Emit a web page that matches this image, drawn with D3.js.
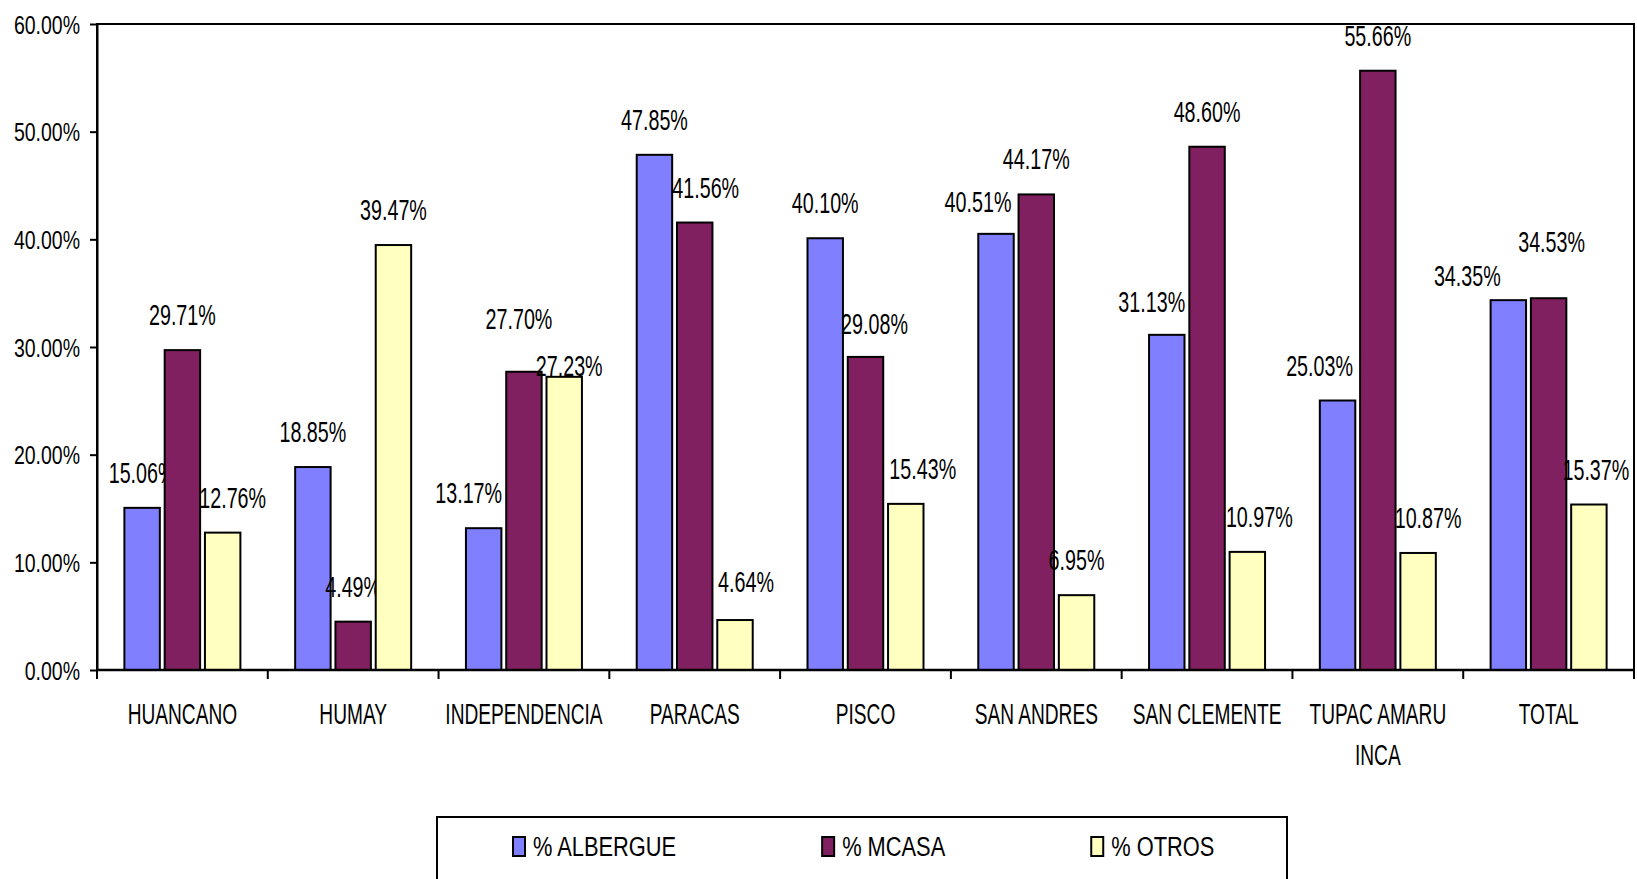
<!DOCTYPE html>
<html>
<head>
<meta charset="utf-8">
<script src="https://cdn.jsdelivr.net/npm/d3@7"></script>
<style>
  body { margin: 0; background: #fff; }
  text { font-family: "Liberation Sans", Arial, sans-serif; fill: #000; }
</style>
</head>
<body>
<div id="chart"></div>
<script>
// data
var categories = ["HUANCANO", "HUMAY", "INDEPENDENCIA", "PARACAS", "PISCO", "SAN ANDRES", "SAN CLEMENTE", "TUPAC AMARU INCA", "TOTAL"];
var seriesNames = ["% ALBERGUE", "% MCASA", "% OTROS"];
var albergue = [0.1506, 0.1885, 0.1317, 0.4785, 0.4010, 0.4051, 0.3113, 0.2503, 0.3435];
var mcasa    = [0.2971, 0.0449, 0.2770, 0.4156, 0.2908, 0.4417, 0.4860, 0.5566, 0.3453];
var otros    = [0.1276, 0.3947, 0.2723, 0.0464, 0.1543, 0.0695, 0.1097, 0.1087, 0.1537];
var yTicks   = [0, 0.1, 0.2, 0.3, 0.4, 0.5, 0.6];

var seriesValues = [albergue, mcasa, otros];
var colors = ["#8080FF", "#802060", "#FFFFC0"];

// labels that were dragged around in the original (dx, dy in px)
var labelNudge = {
  "HUANCANO|2": [10, 0],
  "INDEPENDENCIA|0": [-15, 0],
  "INDEPENDENCIA|1": [-5, -18],
  "INDEPENDENCIA|2": [5, 24],
  "PARACAS|1": [11, 0],
  "PARACAS|2": [11, -3],
  "PISCO|1": [9, 2],
  "PISCO|2": [17, 0],
  "SAN ANDRES|0": [-18, 3],
  "SAN CLEMENTE|0": [-15, 2],
  "SAN CLEMENTE|2": [12, 0],
  "TUPAC AMARU INCA|0": [-18, 0],
  "TUPAC AMARU INCA|2": [10, 0],
  "TOTAL|0": [-41, 11],
  "TOTAL|1": [3, -21],
  "TOTAL|2": [7, 0]
};

/*
 * layout
 */
var width = 1637, height = 879;
var plot = { left: 97, top: 24, right: 1634, bottom: 670 };

var svg = d3.select("#chart").append("svg")
  .attr("width", width)
  .attr("height", height);

var x0 = d3.scaleBand()
  .domain(categories)
  .range([plot.left, plot.right])
  .padding(0);

var x1 = d3.scaleBand()
  .domain(d3.range(seriesNames.length))
  .range([-58, 58])
  .paddingInner(0.12);

var y = d3.scaleLinear()
  .domain([0, 0.6])
  .range([plot.bottom, plot.top]);

// plot frame
svg.append("rect")
  .attr("x", plot.left).attr("y", plot.top)
  .attr("width", plot.right - plot.left)
  .attr("height", plot.bottom - plot.top)
  .attr("fill", "none")
  .attr("stroke", "#000")
  .attr("stroke-width", 2);

// bars
var groups = svg.append("g").selectAll("g")
  .data(categories)
  .join("g")
  .attr("transform", function(d) { return "translate(" + (x0(d) + x0.bandwidth() / 2) + ",0)"; });

var pct = d3.format(".2%");

groups.each(function(cat, ci) {
  var g = d3.select(this);
  seriesValues.forEach(function(vals, si) {
    var v = vals[ci];
    g.append("rect")
      .attr("x", x1(si))
      .attr("y", y(v))
      .attr("width", x1.bandwidth())
      .attr("height", y(0) - y(v))
      .attr("fill", colors[si])
      .attr("stroke", "#000")
      .attr("stroke-width", 2);

    var nudge = labelNudge[cat + "|" + si] || [0, 0];
    var lx = x1(si) + x1.bandwidth() / 2 + nudge[0];
    var ly = y(v) - 25 + nudge[1];
    g.append("text")
      .attr("transform", "translate(" + lx + "," + ly + ") scale(0.68,1)")
      .attr("text-anchor", "middle")
      .style("font-size", "29px")
      .text(pct(v));
  });
});

// y axis
var yScaleX = 0.75;
var yAxis = svg.append("g")
  .attr("transform", "translate(" + plot.left + ",0)")
  .call(d3.axisLeft(y).tickValues(yTicks).tickFormat(pct).tickSize(7).tickSizeOuter(0));
yAxis.select(".domain").attr("stroke-width", 2);
yAxis.selectAll(".tick line").attr("stroke-width", 2);
yAxis.selectAll(".tick text")
  .style("font-size", "26px")
  .attr("font-family", null)
  .attr("x", -17 / yScaleX)
  .attr("dy", "0.35em")
  .attr("transform", "scale(" + yScaleX + ",1)");

// x axis: baseline, boundary ticks, category labels
svg.append("line")
  .attr("x1", plot.left).attr("x2", plot.right)
  .attr("y1", y(0)).attr("y2", y(0))
  .attr("stroke", "#000").attr("stroke-width", 2.5);

svg.append("g").selectAll("line")
  .data(categories.concat([null]))
  .join("line")
  .attr("x1", function(d) { return d === null ? plot.right : x0(d); })
  .attr("x2", function(d) { return d === null ? plot.right : x0(d); })
  .attr("y1", y(0)).attr("y2", y(0) + 9)
  .attr("stroke", "#000").attr("stroke-width", 2);

var catScaleX = 0.66;
var catLabels = svg.append("g").selectAll("text")
  .data(categories)
  .join("text")
  .attr("transform", function(d) { return "translate(" + (x0(d) + x0.bandwidth() / 2) + "," + (y(0) + 54) + ") scale(" + catScaleX + ",1)"; })
  .attr("text-anchor", "middle")
  .style("font-size", "29px");

// wrap labels that are wider than the band
catLabels.each(function(d) {
  var t = d3.select(this);
  var words = d.split(" ");
  var lines = [];
  var line = [];
  var probe = t.append("tspan");
  words.forEach(function(w) {
    line.push(w);
    probe.text(line.join(" "));
    if (probe.node().getComputedTextLength() * catScaleX > x0.bandwidth() - 4 && line.length > 1) {
      line.pop();
      lines.push(line.join(" "));
      line = [w];
    }
  });
  lines.push(line.join(" "));
  probe.remove();
  lines.forEach(function(l, i) {
    t.append("tspan")
      .attr("x", 0)
      .attr("y", i * 41)
      .text(l);
  });
});

// legend
var legend = svg.append("g");
legend.append("rect")
  .attr("x", 437).attr("y", 817)
  .attr("width", 850).attr("height", 120)
  .attr("fill", "#fff")
  .attr("stroke", "#000")
  .attr("stroke-width", 2);

var legScaleX = 0.78;
var lx = 513;
seriesNames.forEach(function(name, i) {
  legend.append("rect")
    .attr("x", lx).attr("y", 837)
    .attr("width", 12).attr("height", 19)
    .attr("fill", colors[i])
    .attr("stroke", "#000")
    .attr("stroke-width", 2);
  var t = legend.append("text")
    .attr("transform", "translate(" + (lx + 20) + ",856) scale(" + legScaleX + ",1)")
    .style("font-size", "28px")
    .text(name);
  lx += 20 + t.node().getComputedTextLength() * legScaleX + 146;
});
</script>
</body>
</html>
